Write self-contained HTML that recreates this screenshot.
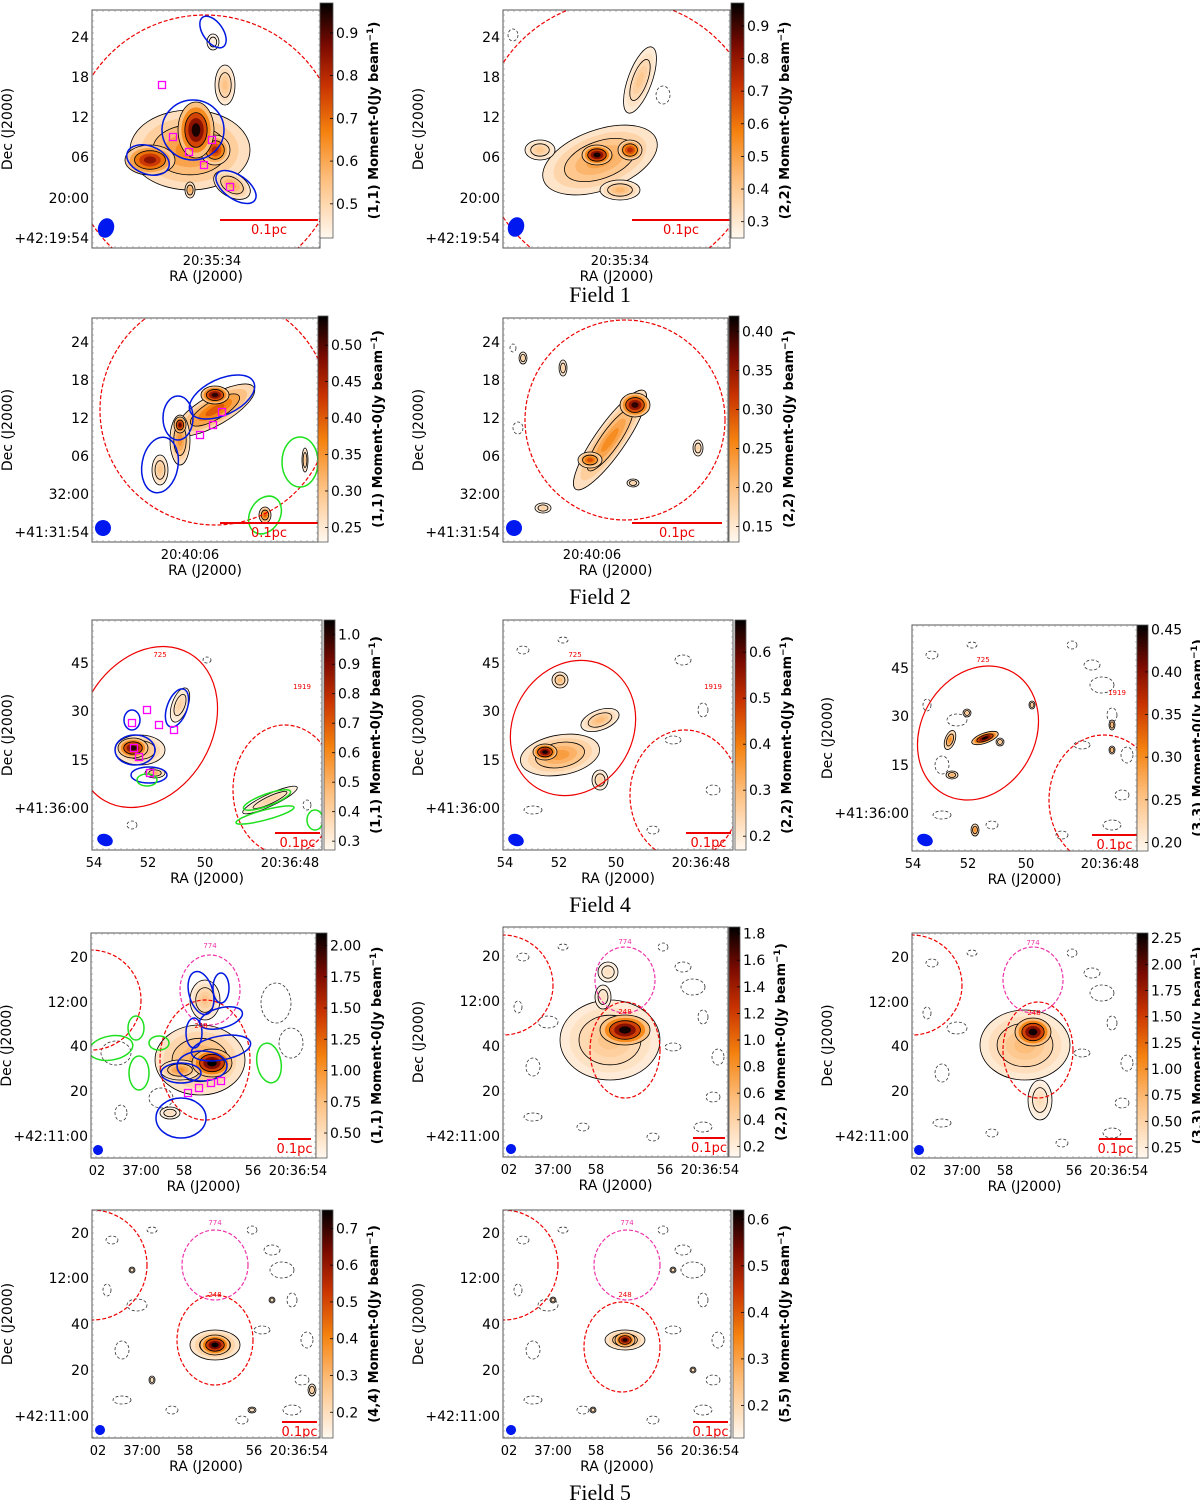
<!DOCTYPE html>
<html><head><meta charset="utf-8">
<style>
html,body{margin:0;padding:0;background:#fff;}
svg{display:block;font-family:"DejaVu Sans","Liberation Sans",sans-serif;}
.cap{font-family:"Liberation Serif",serif;font-size:22px;}
</style></head>
<body>
<svg id="fig" width="1200" height="1504" viewBox="0 0 1200 1504" xmlns="http://www.w3.org/2000/svg">
<defs>
<linearGradient id="cmap" x1="0" y1="1" x2="0" y2="0">
<stop offset="0" stop-color="#fff8f0"/><stop offset="0.25" stop-color="#fdbf7e"/><stop offset="0.45" stop-color="#f5820f"/><stop offset="0.65" stop-color="#c83200"/><stop offset="0.82" stop-color="#7a0a00"/><stop offset="1" stop-color="#000"/>
</linearGradient>
</defs>
<text class="cap" x="600" y="302" text-anchor="middle">Field 1</text>
<text class="cap" x="600" y="604" text-anchor="middle">Field 2</text>
<text class="cap" x="600" y="912" text-anchor="middle">Field 4</text>
<text class="cap" x="600" y="1500" text-anchor="middle">Field 5</text>
</svg>
<script>
// ---- data: emission blobs [x-offset, y-offset, rx, ry, angle, peak Jy] per panel (axis units) ----
const A1_blobs=[[98,140,60,40,0,0.65],[58,150,25,15,0,0.85],[123,140,15,15,0,0.8],[140,175,20,12,30,0.6],[133,75,10,20,0,0.55],[121,32,6,8,0,0.45],[98,180,5,8,0,0.6],[104,120,18,28,0,0.95]];
const A2_blobs=[[97,150,60,30,-20,0.5],[37,140,15,10,0,0.4],[117,180,20,10,0,0.45],[137,70,12,35,20,0.4],[127,140,12,10,0,0.75],[94,145,15,10,0,0.95]];
const B1_blobs=[[123,92,45,15,-30,0.4],[88,122,10,25,0,0.35],[68,152,8,15,0,0.3],[173,197,6,8,0,0.4],[213,142,3,12,0,0.3],[88,107,6,8,0,0.5],[123,77,14,9,0,0.52]];
const B2_blobs=[[107,122,60,15,-55,0.25],[87,142,12,8,0,0.3],[20,40,4,6,0,0.18],[60,50,4,8,0,0.18],[195,130,5,8,0,0.18],[40,190,8,5,0,0.18],[130,165,6,4,0,0.18],[132,87,15,12,0,0.4]];
const C1_blobs=[[48,130,25,15,0,0.5],[88,85,8,18,20,0.4],[63,153,10,5,0,0.5],[178,180,30,6,-25,0.4],[41,128,15,10,0,1.0]];
const C2_blobs=[[57,135,40,20,-10,0.35],[97,100,20,10,-20,0.3],[57,60,8,8,0,0.3],[97,160,8,10,0,0.25],[42,132,12,8,0,0.65]];
const C3_blobs=[[38,115,5,10,20,0.3],[40,150,6,4,0,0.27],[55,88,4,4,0,0.25],[63,205,4,6,0,0.3],[88,117,4,4,0,0.25],[120,80,3,4,0,0.25],[200,100,3,5,0,0.27],[200,125,3,4,0,0.27],[73,113,14,5,-20,0.45]];
const D1_blobs=[[109,127,45,35,0,0.9],[89,137,20,10,0,1.0],[114,67,15,20,0,0.7],[79,180,10,6,0,0.5],[121,130,20,14,0,2.1]];
const D2_blobs=[[107,113,50,40,0,0.5],[100,70,8,12,0,0.3],[105,45,10,10,0,0.3],[122,103,25,15,0,1.8]];
const D3_blobs=[[113,112,45,35,0,0.7],[128,167,12,20,0,0.4],[121,99,18,14,0,2.25]];
const E1_blobs=[[123,135,25,15,0,0.35],[40,60,3,3,0,0.2],[180,90,3,3,0,0.2],[60,170,3,4,0,0.2],[160,200,4,3,0,0.2],[220,180,4,6,0,0.25],[123,135,15,10,0,0.75]];
const E2_blobs=[[122,130,20,10,0,0.3],[50,90,3,3,0,0.2],[170,60,3,3,0,0.2],[90,200,3,3,0,0.2],[190,160,3,3,0,0.2],[122,130,10,7,0,0.6]];
// ---- negative (dashed) contours [x, y, rx, ry] ----
const NEG_sparse=[[20,30,6,4],[180,40,8,5],[200,90,5,7],[30,190,9,4],[150,210,6,4],[210,170,7,5],[60,20,5,3],[170,120,8,4]];
const NEG_dense=[[20,30,6,4],[180,40,8,5],[200,90,5,7],[30,190,9,4],[150,210,6,4],[210,170,7,5],[60,20,5,3],[170,120,8,4],[45,95,10,6],[190,60,12,8],[30,140,7,9],[200,200,9,5],[80,200,6,4],[160,20,5,4],[15,80,4,6],[215,130,6,8]];
// ---- colorbar ticks ----
const A1_cb=[0.5,0.6,0.7,0.8,0.9], A2_cb=[0.3,0.4,0.5,0.6,0.7,0.8,0.9];
const B1_cb=[0.25,0.30,0.35,0.40,0.45,0.50], B2_cb=[0.15,0.20,0.25,0.30,0.35,0.40];
const C1_cb=[0.3,0.4,0.5,0.6,0.7,0.8,0.9,1.0], C2_cb=[0.2,0.3,0.4,0.5,0.6], C3_cb=[0.20,0.25,0.30,0.35,0.40,0.45];
const D1_cb=[0.50,0.75,1.00,1.25,1.50,1.75,2.00], D2_cb=[0.2,0.4,0.6,0.8,1.0,1.2,1.4,1.6,1.8], D3_cb=[0.25,0.50,0.75,1.00,1.25,1.50,1.75,2.00,2.25];
const E1_cb=[0.2,0.3,0.4,0.5,0.6,0.7], E2_cb=[0.2,0.3,0.4,0.5,0.6];
// ---- axis tick labels ----
const F1_dec=["24","18","12","06","20:00","+42:19:54"], F1_ra=["20:35:34"];
const F2_dec=["24","18","12","06","32:00","+41:31:54"], F2_ra=["20:40:06"];
const F4_dec=["45","30","15","+41:36:00"], F4_ra=["54","52","50","20:36:48"];
const F5_dec=["20","12:00","40","20","+42:11:00"], F5_ra=["02","37:00","58","56","20:36:54"];

const NS="http://www.w3.org/2000/svg";
const svg=document.getElementById('fig');
function mk(tag,attrs,parent){const e=document.createElementNS(NS,tag);for(const k in attrs)e.setAttribute(k,attrs[k]);(parent||svg).appendChild(e);return e;}
const stops=[[0,[255,248,240]],[0.25,[253,191,126]],[0.45,[245,130,15]],[0.65,[200,50,0]],[0.82,[122,10,0]],[1,[0,0,0]]];
function cmap(t){t=Math.max(0,Math.min(1,t));for(let i=1;i<stops.length;i++){if(t<=stops[i][0]){const a=stops[i-1],b=stops[i],f=(t-a[0])/(b[0]-a[0]);return 'rgb('+a[1].map((v,j)=>Math.round(v+(b[1][j]-v)*f)).join(',')+')';}}return '#000';}

const panels=[
 {id:'f1-11',box:[92,10,228,238],cb:[320,3,13,235],rng:[0.42,0.97],blobs:A1_blobs,neg:[],ticks:A1_cb,lab:'(1,1)',dec:F1_dec,decY:[27,67,107,147,188,228],ra:F1_ra,raX:[120],
  circ:[[113,140,135,135,0,'#e00','d']],blue:[[101,120,31,30,0],[56,150,22,14,20],[144,177,23,12,35],[121,22,18,10,55]],green:[],sq:[[70,75],[81,127],[97,142],[120,130],[112,155],[138,177]],bar:[128,226,210],beam:[14,218,8,10]},
 {id:'f1-22',box:[503,10,227,238],cb:[731,3,13,235],rng:[0.25,0.97],blobs:A2_blobs,neg:[[10,25,5,6],[160,85,7,9]],ticks:A2_cb,lab:'(2,2)',dec:F1_dec,decY:[27,67,107,147,188,228],ra:F1_ra,raX:[117],
  circ:[[117,130,140,140,0,'#e00','d']],blue:[],green:[],sq:[],bar:[129,227,210],beam:[13,217,8,10]},
 {id:'f2-11',box:[92,318,226,224],cb:[318,316,10,226],rng:[0.23,0.54],blobs:B1_blobs,neg:[],ticks:B1_cb,lab:'(1,1)',dec:F2_dec,decY:[24,62,100,138,176,214],ra:F2_ra,raX:[98],
  circ:[[123,92,115,115,0,'#e00','d']],blue:[[130,79,35,18,-25],[86,100,15,22,0],[68,147,18,28,10]],green:[[208,144,18,25,0],[173,197,15,20,30]],sq:[[130,94],[121,107],[108,117]],bar:[128,226,205],beam:[11,210,8,8]},
 {id:'f2-22',box:[503,318,225,224],cb:[729,316,10,226],rng:[0.13,0.42],blobs:B2_blobs,neg:[[15,110,5,6],[10,30,3,4]],ticks:B2_cb,lab:'(2,2)',dec:F2_dec,decY:[24,62,100,138,176,214],ra:F2_ra,raX:[89],
  circ:[[122,102,100,100,0,'#e00','d']],blue:[],green:[],sq:[],bar:[129,219,205],beam:[11,210,8,8]},
 {id:'f4-11',box:[92,620,230,230],cb:[324,620,11,230],rng:[0.27,1.05],blobs:C1_blobs,neg:[[115,40,4,3],[40,205,5,4],[215,185,4,5]],ticks:C1_cb,lab:'(1,1)',dec:F4_dec,decY:[43,91,140,188],ra:F4_ra,raX:[2,56,113,198],
  circ:[[55,107,65,85,30,'#e00','s'],[193,170,52,65,0,'#e00','d']],blue:[[43,130,20,15,0],[85,88,10,20,20],[57,155,18,8,0],[40,100,8,10,0]],green:[[55,160,10,6,0],[175,180,25,6,-20],[173,195,30,5,-15],[223,200,8,10,0]],sq:[[42,128],[40,103],[55,90],[67,105],[82,110],[47,137],[58,153]],bar:[183,228,213],beam:[13,220,8,6],lbls:[['725',68,37],['1919',210,69]]},
 {id:'f4-22',box:[503,620,230,230],cb:[735,620,11,230],rng:[0.17,0.67],blobs:C2_blobs,neg:NEG_sparse,ticks:C2_cb,lab:'(2,2)',dec:F4_dec,decY:[43,91,140,188],ra:F4_ra,raX:[2,56,113,198],
  circ:[[70,108,60,70,30,'#e00','s'],[182,175,55,65,0,'#e00','d']],blue:[],green:[],sq:[],bar:[183,228,213],beam:[13,220,8,6],lbls:[['725',72,37],['1919',210,69]]},
 {id:'f4-33',box:[912,625,225,226],cb:[1137,625,11,226],rng:[0.19,0.455],blobs:C3_blobs,neg:NEG_dense,ticks:C3_cb,lab:'(3,3)',dec:F4_dec,decY:[43,91,140,188],ra:F4_ra,raX:[1,56,114,198],
  circ:[[66,108,57,70,30,'#e00','s'],[192,175,55,65,0,'#e00','d']],blue:[],green:[],sq:[],bar:[180,225,210],beam:[13,215,8,6],lbls:[['725',71,37],['1919',205,70]]},
 {id:'f5-11',box:[91,933,225,225],cb:[316,933,11,225],rng:[0.3,2.1],blobs:D1_blobs,neg:[[25,120,15,12],[70,165,12,10],[185,70,15,20],[200,110,12,15],[30,180,6,8]],ticks:D1_cb,lab:'(1,1)',dec:F5_dec,decY:[24,69,113,158,203],ra:F5_ra,raX:[6,50,93,162,207],
  circ:[[0,67,50,50,0,'#e00','d'],[114,127,45,60,0,'#e00','d'],[119,57,30,35,0,'#e3a','d']],blue:[[111,133,25,15,0],[90,140,20,10,0],[110,60,12,22,-15],[130,55,8,15,0],[130,85,22,10,-15],[130,115,30,12,-10],[103,100,8,15,0],[90,185,25,20,0]],green:[[20,115,22,12,-10],[45,95,8,12,0],[68,110,10,7,0],[48,140,10,17,0],[178,130,12,20,-10]],sq:[[97,160],[108,155],[120,150],[130,148]],bar:[187,220,206],beam:[7,217,5,5],lbls:[['774',119,15],['248',110,95]]},
 {id:'f5-22',box:[503,927,225,230],cb:[729,927,11,230],rng:[0.12,1.85],blobs:D2_blobs,neg:NEG_dense,ticks:D2_cb,lab:'(2,2)',dec:F5_dec,decY:[29,74,119,164,209],ra:F5_ra,raX:[6,50,93,162,207],
  circ:[[0,58,50,50,0,'#e00','d'],[122,123,35,48,0,'#e00','d'],[122,53,30,33,0,'#e3a','d']],blue:[],green:[],sq:[],bar:[190,222,211],beam:[8,222,5,5],lbls:[['774',122,17],['248',122,87]]},
 {id:'f5-33',box:[912,933,225,225],cb:[1137,933,11,225],rng:[0.15,2.3],blobs:D3_blobs,neg:NEG_dense,ticks:D3_cb,lab:'(3,3)',dec:F5_dec,decY:[24,69,113,158,203],ra:F5_ra,raX:[6,50,93,162,207],
  circ:[[0,52,50,50,0,'#e00','d'],[126,117,35,48,0,'#e00','d'],[121,47,30,33,0,'#e3a','d']],blue:[],green:[],sq:[],bar:[187,220,206],beam:[7,217,5,5],lbls:[['774',121,12],['248',122,82]]},
 {id:'f5-44',box:[92,1210,228,228],cb:[322,1210,11,228],rng:[0.13,0.75],blobs:E1_blobs,neg:NEG_dense,ticks:E1_cb,lab:'(4,4)',dec:F5_dec,decY:[23,68,114,160,206],ra:F5_ra,raX:[6,50,93,162,207],
  circ:[[0,55,55,55,0,'#e00','d'],[123,130,38,45,0,'#e00','d'],[123,55,33,35,0,'#e3a','d']],blue:[],green:[],sq:[],bar:[190,225,212],beam:[8,220,5,5],lbls:[['774',123,15],['248',123,87]]},
 {id:'f5-55',box:[503,1210,228,228],cb:[733,1210,11,228],rng:[0.13,0.62],blobs:E2_blobs,neg:NEG_dense,ticks:E2_cb,lab:'(5,5)',dec:F5_dec,decY:[23,68,114,160,206],ra:F5_ra,raX:[6,50,93,162,207],
  circ:[[0,55,55,55,0,'#e00','d'],[119,137,38,45,0,'#e00','d'],[124,55,33,35,0,'#e3a','d']],blue:[],green:[],sq:[],bar:[190,225,212],beam:[8,220,5,5],lbls:[['774',124,15],['248',122,87]]}
];

panels.forEach(p=>{
  const [bx,by,bw,bh]=p.box;
  const X=v=>bx+v, Y=v=>by+v;
  const g=mk('g',{});
  
  
  const cid='clip-'+p.id;
  const cp=mk('clipPath',{id:cid},g);mk('rect',{x:bx,y:by,width:bw,height:bh},cp);
  mk('rect',{x:bx,y:by,width:bw,height:bh,fill:'#fff'},g);
  const img=mk('g',{'clip-path':'url(#'+cid+')'},g);
  const norm=v=>(v-p.rng[0])/(p.rng[1]-p.rng[0]);
  p.neg.forEach(n=>{
    const e=mk('ellipse',{cx:X(n[0]),cy:Y(n[1]),rx:n[2],ry:n[3],fill:'none',stroke:'#333','stroke-width':0.8,'stroke-dasharray':'3 2'},img);
    
    
  });
  p.blobs.forEach(b=>{
    const [cx,cy,rx,ry,ang,peak]=b;
    const bg=mk('g',{transform:`rotate(${ang} ${X(cx)} ${Y(cy)})`},img);
    
    
    for(let k=0;k<5;k++){
      const s=1-k*0.19, val=p.rng[0]+(peak-p.rng[0])*(0.25+0.75*k/4);
      mk('ellipse',{cx:X(cx),cy:Y(cy),rx:rx*s,ry:ry*s,fill:cmap(norm(val)),stroke:k==0||k==2?'#000':'none','stroke-width':0.8},bg);
    }
  });
  (p.circ||[]).forEach(c=>{
    const e=mk('ellipse',{cx:X(c[0]),cy:Y(c[1]),rx:c[2],ry:c[3],transform:`rotate(${c[4]} ${X(c[0])} ${Y(c[1])})`,fill:'none',stroke:c[5],'stroke-width':1.2,'stroke-dasharray':c[6]=='d'?'4 2':'none'},img);
    
    
  });
  p.blue.forEach(c=>{const e=mk('ellipse',{cx:X(c[0]),cy:Y(c[1]),rx:c[2],ry:c[3],transform:`rotate(${c[4]} ${X(c[0])} ${Y(c[1])})`,fill:'none',stroke:'#0018e0','stroke-width':1.5},img);
    
    });
  p.green.forEach(c=>{const e=mk('ellipse',{cx:X(c[0]),cy:Y(c[1]),rx:c[2],ry:c[3],transform:`rotate(${c[4]} ${X(c[0])} ${Y(c[1])})`,fill:'none',stroke:'#1ee01e','stroke-width':1.5},img);
    
    });
  p.sq.forEach(s=>{const e=mk('rect',{x:X(s[0])-3.5,y:Y(s[1])-3.5,width:7,height:7,fill:'none',stroke:'#f0f','stroke-width':1.3},img);
    
    });
  (p.lbls||[]).forEach(l=>{const t=mk('text',{x:X(l[1]),y:Y(l[2]),'font-size':7,fill:l[0]=='774'?'#e3a':'#e00','text-anchor':'middle'},img);t.textContent=l[0];
    
    });
  const sb=mk('line',{x1:X(p.bar[0]),x2:X(p.bar[1]),y1:Y(p.bar[2]),y2:Y(p.bar[2]),stroke:'#e00','stroke-width':2},img);
  
  
  const st=mk('text',{x:X((p.bar[0]+p.bar[1])/2),y:Y(p.bar[2]+14),'font-size':13,fill:'#e00','text-anchor':'middle'},img);st.textContent='0.1pc';
  
  
  const bm=mk('ellipse',{cx:X(p.beam[0]),cy:Y(p.beam[1]),rx:p.beam[2],ry:p.beam[3],fill:'#0018f0',transform:`rotate(20 ${X(p.beam[0])} ${Y(p.beam[1])})`},img);
  
  
  const fr=mk('rect',{x:bx,y:by,width:bw,height:bh,fill:'none',stroke:'#555','stroke-width':1},g);
  
  
  for(let t=5;t<bw;t+=6){mk('line',{x1:bx+t,x2:bx+t,y1:by,y2:by+2,stroke:'#888','stroke-width':0.6},g);mk('line',{x1:bx+t,x2:bx+t,y1:by+bh-2,y2:by+bh,stroke:'#888','stroke-width':0.6},g);}
  for(let t=5;t<bh;t+=6){mk('line',{x1:bx,x2:bx+2,y1:by+t,y2:by+t,stroke:'#888','stroke-width':0.6},g);mk('line',{x1:bx+bw-2,x2:bx+bw,y1:by+t,y2:by+t,stroke:'#888','stroke-width':0.6},g);}
  p.dec.forEach((d,i)=>{const t=mk('text',{x:bx-3,y:Y(p.decY[i])+5,'font-size':14,'text-anchor':'end'},g);t.textContent=d;
    
    });
  p.ra.forEach((d,i)=>{const t=mk('text',{x:X(p.raX[i]),y:by+bh+17,'font-size':13,'text-anchor':'middle'},g);t.textContent=d;
    
    });
  const rl=mk('text',{x:bx+bw/2,y:by+bh+33,'font-size':14,'text-anchor':'middle'},g);rl.textContent='RA (J2000)';
  
  
  const dx=bx-80;
  const dl=mk('text',{x:dx,y:by+bh/2,'font-size':14,'text-anchor':'middle',transform:`rotate(-90 ${dx} ${by+bh/2})`},g);dl.textContent='Dec (J2000)';
  
  
  const [cx,cy,cw,ch]=p.cb;
  const cbr=mk('rect',{x:cx,y:cy,width:cw,height:ch,fill:'url(#cmap)',stroke:'#555','stroke-width':0.8},g);
  
  
  const cyv=v=>cy+ch-(v-p.rng[0])/(p.rng[1]-p.rng[0])*ch;
  const twoDec=p.ticks.some(q=>Math.round(q*10)!=q*10);
  p.ticks.forEach(v=>{
    mk('line',{x1:cx+cw-3,x2:cx+cw,y1:cyv(v),y2:cyv(v),stroke:'#000','stroke-width':0.8},g);
    const t=mk('text',{x:cx+cw+3,y:cyv(v)+5,'font-size':14},g);
    t.textContent=v.toFixed(twoDec?2:1);
    
    
  });
  const lx=cx+cw+(twoDec?54:45), ly=cy+ch/2;
  const cl=mk('text',{x:lx,y:ly,'font-size':13,'font-weight':'bold','text-anchor':'middle',transform:`rotate(-90 ${lx} ${ly})`},g);
  cl.textContent=p.lab+' Moment-0(Jy beam';
  const sup=mk('tspan',{dy:-5,'font-size':9},cl);sup.textContent='−1';
  const cls=mk('tspan',{dy:5},cl);cls.textContent=')';
  
  
});
</script>
</body></html>
